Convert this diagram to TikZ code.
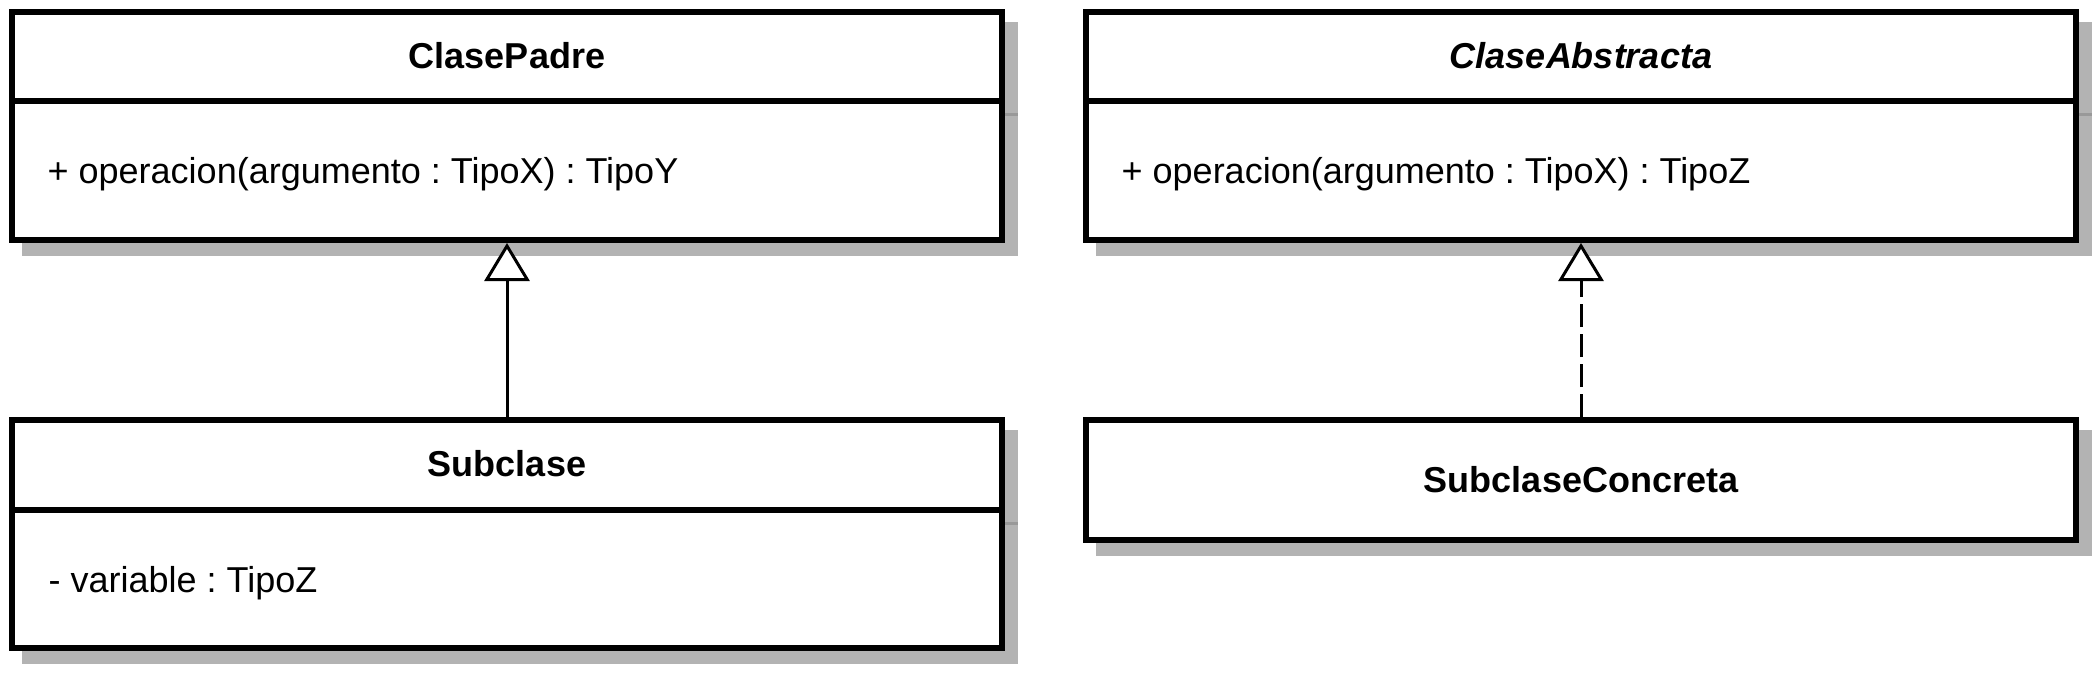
\documentclass[tikz,border=0pt]{standalone}
\usepackage{fontspec}
\setmainfont{Liberation Sans}
\usetikzlibrary{arrows.meta}
\definecolor{shadowc}{HTML}{B3B3B3}
\definecolor{divshadow}{HTML}{999999}
\pgfdeclarelayer{bg}
\pgfsetlayers{bg,main}
\frenchspacing
\begin{document}
\begin{tikzpicture}[x=1pt,y=-1pt,
  classbox/.style={draw=black, fill=white, line width=6pt, rectangle, inner sep=0pt, minimum width=990pt},
  titletext/.style={font=\fontsize{36}{43}\selectfont\bfseries, anchor=base, inner sep=0pt},
  membertext/.style={font=\fontsize{36}{43}\selectfont, anchor=base west, inner sep=0pt},
  divider/.style={line width=6pt},
  divshadowline/.style={draw=divshadow, line width=3pt},
  inherit/.style={line width=3pt, -{Triangle[fill=white,length=38pt,width=45pt]}},
  realize/.style={inherit, dash pattern=on 23pt off 7pt}
]
\useasboundingbox (0,0) rectangle (2096,672);

% class boxes
\node[classbox, minimum height=228pt] (padre) at (507,126) {};
\node[classbox, minimum height=228pt] (abstracta) at (1581,126) {};
\node[classbox, minimum height=228pt] (subclase) at (507,534) {};
\node[classbox, minimum height=120pt] (concreta) at (1581,480) {};

% shadows
\begin{pgfonlayer}{bg}
  \foreach \n in {padre,abstracta,subclase,concreta}{
    \fill[shadowc] ([shift={(13,13)}]\n.north west) rectangle ([shift={(13,13)}]\n.south east);
  }
  \draw[divshadowline] ([shift={(13,0)}]padre.west |- 0,114) -- ([shift={(13,0)}]padre.east |- 0,114);
  \draw[divshadowline] ([shift={(13,0)}]abstracta.west |- 0,114) -- ([shift={(13,0)}]abstracta.east |- 0,114);
  \draw[divshadowline] ([shift={(13,0)}]subclase.west |- 0,523) -- ([shift={(13,0)}]subclase.east |- 0,523);
\end{pgfonlayer}

% compartment dividers
\draw[divider] (padre.west |- 0,101) -- (padre.east |- 0,101);
\draw[divider] (abstracta.west |- 0,101) -- (abstracta.east |- 0,101);
\draw[divider] (subclase.west |- 0,510) -- (subclase.east |- 0,510);

% texts
\node[titletext] (tpadre) at (507,68) {ClasePadre};
\node[titletext, font=\fontsize{36}{43}\selectfont\bfseries\itshape] (tabstracta) at (1581,68) {ClaseAbstracta};
\node[membertext] (mpadre) at (47.5,183) {+ operacion(argumento : TipoX) : TipoY};
\node[membertext] (mabstracta) at (1121.5,183) {+ operacion(argumento : TipoX) : TipoZ};
\node[titletext] (tsubclase) at (507,476) {Subclase};
\node[membertext] (msubclase) at (48.5,592) {- variable : TipoZ};
\node[titletext] (tconcreta) at (1581,492) {SubclaseConcreta};

% connectors
\draw[inherit] (subclase) -- (padre);
\draw[realize] (concreta) -- (abstracta);
\end{tikzpicture}
\end{document}
